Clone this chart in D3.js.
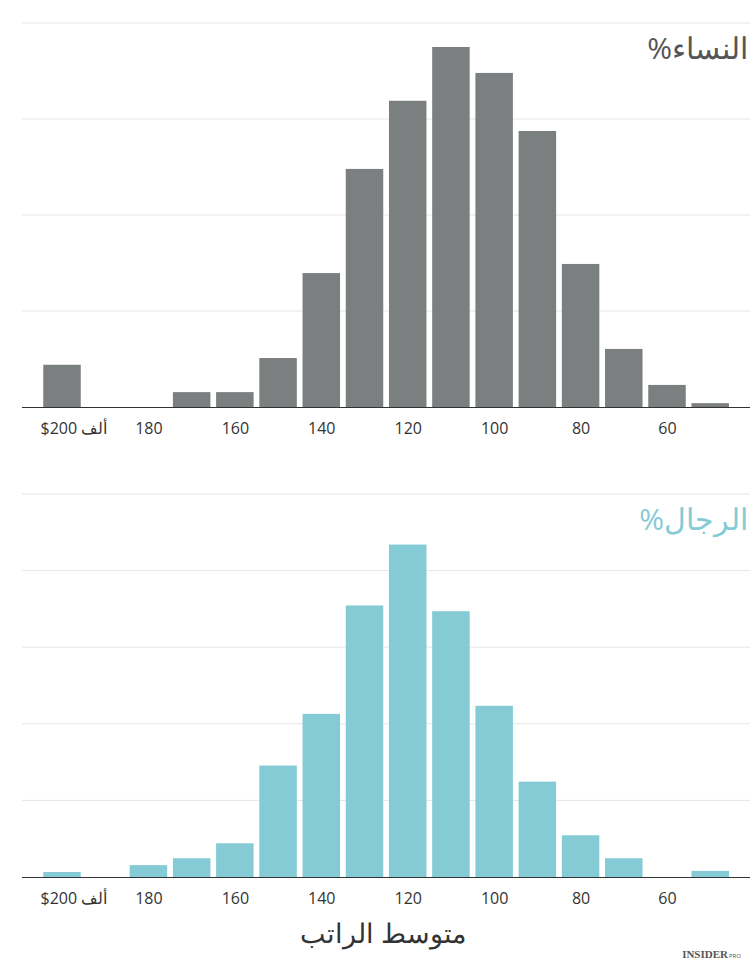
<!DOCTYPE html>
<html><head><meta charset="utf-8">
<script src="https://cdn.jsdelivr.net/npm/d3@7"></script>
<style>body{margin:0;background:#fff}svg{display:block}</style>
</head><body>
<script>
const bins = [200,190,180,170,160,150,140,130,120,110,100,90,80,70,60,50];
const women = [0.88,0,0,0.31,0.31,1.02,2.79,4.96,6.38,7.5,6.96,5.75,2.98,1.21,0.46,0.08];
const men = [0.13,0,0.31,0.49,0.88,2.91,4.26,7.09,8.68,6.94,4.47,2.49,1.09,0.49,0,0.16];
const ticks = [200,180,160,140,120,100,80,60];
const titles = ["%النساء","%الرجال"];
const colors = ["#7b7f80","#84cbd5"];
const titleColors = ["#555","#84cbd5"];

const W=750,H=962;
const svg=d3.select("body").append("svg").attr("width",W).attr("height",H);
const x=d3.scaleLinear().domain([200,60]).range([62,667]);
const bw=37.5;
const font="'Open Sans','Noto Sans',sans-serif";

function panel(data,top,base,ymax,step,title,col,tcol){
  const y=d3.scaleLinear().domain([0,ymax]).range([base,top]);
  const g=svg.append("g");
  g.selectAll(".grid").data(d3.range(step,ymax+0.001,step)).join("line")
    .attr("x1",22).attr("x2",750).attr("y1",d=>y(d)).attr("y2",d=>y(d))
    .attr("stroke","#e6e6e6");
  g.selectAll("rect").data(bins.map((b,i)=>({b,v:data[i]})).filter(d=>d.v>0)).join("rect")
    .attr("x",d=>x(d.b)-bw/2).attr("width",bw)
    .attr("y",d=>y(d.v)).attr("height",d=>base-y(d.v)).attr("fill",col);
  const ax=g.append("g").attr("transform",`translate(0,${base})`)
    .call(d3.axisBottom(x).tickValues(ticks).tickSize(0).tickPadding(16)
      .tickFormat(d=>d===200?"$200 ألف":d));
  ax.select(".domain").attr("d","M22,0.5H750").attr("stroke","#333");
  ax.selectAll("text").attr("font-size",16).attr("fill","#333").attr("font-family",font);
  ax.selectAll(".tick").filter(d=>d===200).select("text").attr("direction","ltr").attr("text-anchor","start").attr("dx",-22);
  g.append("text").attr("x",748).attr("y",top+36).attr("text-anchor","end")
    .attr("font-size",30).attr("fill",tcol).attr("font-family",font).text(title);
}
panel(women,23,407,8,2,titles[0],colors[0],titleColors[0]);
panel(men,494,877,10,2,titles[1],colors[1],titleColors[1]);

svg.append("text").attr("x",383).attr("y",943).attr("text-anchor","middle")
  .attr("font-size",27).attr("fill","#333").attr("font-family",font).text("متوسط الراتب");
svg.append("text").attr("x",728).attr("y",958).attr("text-anchor","end")
  .attr("font-size",11).attr("font-weight","bold").attr("fill","#555").attr("font-family","'Liberation Serif',serif").text("INSIDER");
svg.append("text").attr("x",729).attr("y",958).attr("font-size",6).attr("fill","#555").attr("font-family",font).text("PRO");
</script>
</body></html>
